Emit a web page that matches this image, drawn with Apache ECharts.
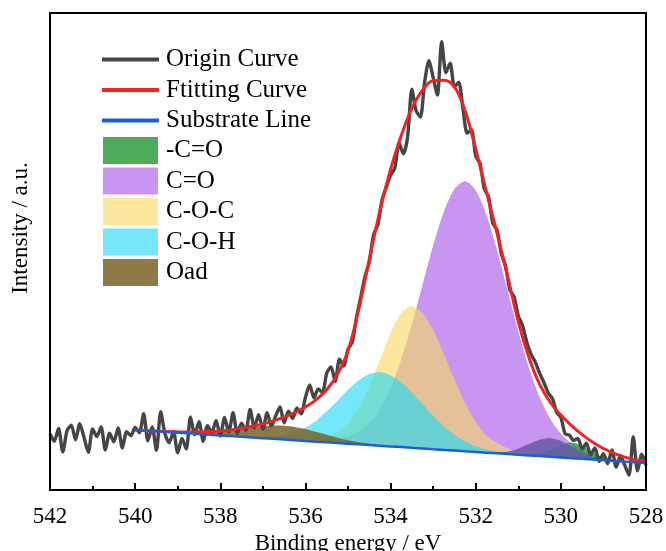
<!DOCTYPE html>
<html><head><meta charset="utf-8">
<script src="https://cdn.jsdelivr.net/npm/echarts@6/dist/echarts.min.js"></script>
<style>html,body{margin:0;padding:0;background:#fff}#c{width:666px;height:551px}</style>
</head><body><div id="c"></div>
<script>
// Raw spectrum (0.1 eV step)
const energyFine = [
542.0,541.9,541.8,541.7,541.6,541.5,541.4,541.3,541.2,541.1,
541.0,540.9,540.8,540.7,540.6,540.5,540.4,540.3,540.2,540.1,
540.0,539.9,539.8,539.7,539.6,539.5,539.4,539.3,539.2,539.1,
539.0,538.9,538.8,538.7,538.6,538.5,538.4,538.3,538.2,538.1,
538.0,537.9,537.8,537.7,537.6,537.5,537.4,537.3,537.2,537.1,
537.0,536.9,536.8,536.7,536.6,536.5,536.4,536.3,536.2,536.1,
536.0,535.9,535.8,535.7,535.6,535.5,535.4,535.3,535.2,535.1,
535.0,534.9,534.8,534.7,534.6,534.5,534.4,534.3,534.2,534.1,
534.0,533.9,533.8,533.7,533.6,533.5,533.4,533.3,533.2,533.1,
533.0,532.9,532.8,532.7,532.6,532.5,532.4,532.3,532.2,532.1,
532.0,531.9,531.8,531.7,531.6,531.5,531.4,531.3,531.2,531.1,
531.0,530.9,530.8,530.7,530.6,530.5,530.4,530.3,530.2,530.1,
530.0,529.9,529.8,529.7,529.6,529.5,529.4,529.3,529.2,529.1,
529.0,528.9,528.8,528.7,528.6,528.5,528.4,528.3,528.2,528.1,
528.0];
const originCurve = [
11.8,10.2,12.9,8.0,12.4,13.6,10.5,13.9,11.0,7.9,
12.8,11.2,13.2,8.4,11.9,10.1,13.0,8.8,12.2,11.4,
13.1,12.0,16.0,10.3,13.2,8.3,16.4,11.8,9.9,12.3,
7.8,10.8,8.6,15.3,11.6,14.3,10.2,13.5,12.0,14.6,
11.3,15.2,12.1,16.2,11.9,14.0,12.5,16.9,13.0,15.8,
12.7,16.2,13.4,15.5,17.4,14.1,16.5,15.0,17.2,16.0,
19.4,22.0,19.3,21.2,20.4,24.5,25.8,22.8,27.4,26.0,
29.5,31.0,36.2,40.5,44.8,47.8,53.5,55.6,60.8,63.5,
66.0,67.5,72.7,70.5,74.0,84.0,79.5,78.2,85.5,90.0,
86.5,82.8,94.0,87.5,89.5,84.5,85.5,80.0,74.8,75.5,
70.0,68.5,63.2,61.5,56.0,54.5,49.6,47.0,42.0,40.5,
36.5,34.5,31.0,28.5,26.8,24.5,22.6,20.4,19.2,16.3,
15.2,11.8,11.5,10.4,10.8,8.6,9.8,7.4,8.8,6.0,
7.6,5.5,8.4,4.8,7.2,5.2,3.1,11.2,4.0,7.5,
5.2];

// Fit grid (0.25 eV step)
const energyFit = [540,539.75,539.5,539.25,539,538.75,538.5,538.25,538,537.75,537.5,537.25,537,536.75,536.5,536.25,536,535.75,535.5,535.25,535,534.75,534.5,534.25,534,533.75,533.5,533.25,533,532.75,532.5,532.25,532,531.75,531.5,531.25,531,530.75,530.5,530.25,530,529.75,529.5,529.25,529,528.75,528.5,528.25,528];
const substrateLine = [12.60,12.46,12.31,12.17,12.02,11.88,11.73,11.59,11.44,11.30,11.16,11.01,10.87,10.72,10.58,10.43,10.29,10.14,10.00,9.85,9.71,9.57,9.42,9.28,9.13,8.99,8.84,8.70,8.55,8.41,8.27,8.12,7.98,7.83,7.69,7.54,7.40,7.25,7.11,6.96,6.82,6.68,6.53,6.39,6.24,6.10,5.95,5.81,5.66];
const fittingCurve = [12.6,12.47,12.35,12.27,12.2,12.15,12.15,12.22,12.38,12.6,12.95,13.35,13.85,14.5,15.3,16.2,17.4,18.9,21.0,24.2,29.2,37.8,48.3,58.5,67.2,74.3,80.0,83.8,85.8,85.9,84.5,79.5,71.5,62.5,53.9,44.8,35.3,27.8,22.2,18.4,15.7,13.5,11.6,10.0,8.7,7.7,6.9,6.3,5.9];
// Peak heights above the substrate line
const peakCdO = [0,0,0,0,0,0,0,0,0,0,0,0,0,0,0,0,0,0,0,0,0,0,0,0,0,0,0,0,0,0,0,0,0,0,0,0,0,0.15,0.57,1.5,2.7,3.3,2.7,1.5,0.57,0.15,0,0,0];
const peakCO = [0,0,0,0,0,0,0,0,0,0,0,0,0,0,0.03,0.05,0.15,0.3,0.5,0.9,1.6,2.7,4.6,7.7,12.2,18.4,25.9,34.3,42.7,49.9,54.8,56.6,54.8,49.9,42.7,34.3,25.9,18.4,12.4,8.0,5.0,3.0,1.8,1.0,0.55,0.3,0.15,0.06,0];
const peakCOC = [0,0,0,0,0,0,0,0,0,0,0,0,0,0,0,0.1,0.25,0.5,1.1,2.3,4.3,7.6,12.3,18.0,23.8,28.1,29.7,28.4,25.0,20.1,14.9,10.1,6.3,3.6,2.2,1.2,0.6,0.3,0.15,0,0,0,0,0,0,0,0,0,0];
const peakCOH = [0,0,0,0,0,0,0,0,0,0,0,0.1,0.25,0.5,0.95,1.7,2.8,4.4,6.5,8.8,11.3,13.4,14.9,15.4,14.9,13.6,11.6,9.3,7.0,5.0,3.3,2.1,1.2,0.7,0.35,0.2,0.1,0,0,0,0,0,0,0,0,0,0,0,0];
const peakOad = [0,0,0,0,0.06,0.13,0.25,0.44,0.72,1.1,1.57,2.05,2.5,2.8,2.9,2.8,2.5,2.05,1.57,1.1,0.72,0.44,0.25,0.13,0.06,0,0,0,0,0,0,0,0,0,0,0,0,0,0,0,0,0,0,0,0,0,0,0,0];
const peakMinor = [0,0,0,0,0,0,0,0,0,0,0,0,0,0,0,0,0,0,0,0,0,0,0,0,0,0,0,0,0,0,0,0,0,0.04,0.17,0.53,1.27,2.37,3.45,3.9,3.45,2.37,1.27,0.53,0.17,0.04,0,0,0];

const xTickMin = 528, xTickMax = 542, xTickStep = 2;

// component outline = substrate line + peak height, kept only around its support
function peakPairs(peak){
  const out = [];
  for (let i = 0; i < energyFit.length; i++) {
    const near = peak[i] > 0 || (i > 0 && peak[i-1] > 0) || (i < peak.length-1 && peak[i+1] > 0);
    if (near) out.push([energyFit[i], substrateLine[i] + peak[i]]);
  }
  return out;
}
function pairs(xs, ys){ return xs.map(function(x,i){ return [x, ys[i]]; }); }

const FONT = 'Liberation Serif';
const comps = [
  {name:'C=O',   data:peakCO,    fill:'#a655e7', op:0.62, legend:'#c896f0'},
  {name:'C-O-C', data:peakCOC,   fill:'#f8da62', op:0.62, legend:'#fbe89e'},
  {name:'C-O-H', data:peakCOH,   fill:'#1fdaf4', op:0.62, legend:'#76e6fa'},
  {name:'Oad',   data:peakOad,   fill:'#786329', op:0.85, legend:'#8e7a49'},
  {name:'-C=O',  data:peakCdO,   fill:'#2e9a3e', op:0.85, legend:'#4dab5b'},
  {name:'minor', data:peakMinor, fill:'#665ba7', op:0.85, legend:'#7d73b4'}
];
const series = [];
comps.forEach(function(c){
  series.push({type:'line', name:c.name, data:peakPairs(c.data),
    symbol:'none', smooth:0.3, silent:true, color:c.legend,
    lineStyle:{width:0}, areaStyle:{color:c.fill, opacity:c.op}, z:2});
});
// white mask below the substrate line
series.push({type:'line', name:'_mask', data:pairs(energyFit, substrateLine), symbol:'none', silent:true,
  lineStyle:{width:0}, areaStyle:{color:'#ffffff', opacity:1}, z:3});
series.push({type:'line', name:'Origin Curve', data:pairs(energyFine, originCurve), symbol:'none',
  smooth:0.25, color:'#454545', lineStyle:{color:'#454545', width:3.4}, z:4});
series.push({type:'line', name:'Ftitting Curve', data:pairs(energyFit, fittingCurve), symbol:'none',
  smooth:0.4, color:'#ee2424', lineStyle:{color:'#ee2424', width:3}, z:5});
series.push({type:'line', name:'Substrate Line', data:pairs(energyFit, substrateLine), symbol:'none',
  color:'#1c5fd4', lineStyle:{color:'#1c5fd4', width:2.5}, z:6});

const chart = echarts.init(document.getElementById('c'));
chart.setOption({
  animation:false,
  backgroundColor:'#fff',
  grid:{left:50, top:13, width:596, height:477, show:true, borderColor:'#000', borderWidth:2,
        outerBoundsMode:'none'},
  xAxis:{type:'value', min:xTickMin, max:xTickMax, interval:xTickStep, inverse:true,
    axisLine:{show:true, lineStyle:{color:'#000', width:2}},
    axisTick:{show:true, inside:true, length:7, lineStyle:{color:'#000', width:2}},
    minorTick:{show:true, splitNumber:2, length:4, lineStyle:{color:'#000', width:2}},
    splitLine:{show:false},
    axisLabel:{fontFamily:FONT, fontSize:23, color:'#000', margin:15},
    name:'Binding energy / eV', nameLocation:'middle', nameGap:40,
    nameTextStyle:{fontFamily:FONT, fontSize:23, color:'#000'}, z:8},
  yAxis:[
    {type:'value', min:0, max:100,
     axisLine:{show:true, lineStyle:{color:'#000', width:2}},
     axisTick:{show:false}, axisLabel:{show:false}, splitLine:{show:false}, z:8},
    {type:'value', min:0, max:100, position:'right',
     axisLine:{show:true, lineStyle:{color:'#000', width:2}},
     axisTick:{show:false}, axisLabel:{show:false}, splitLine:{show:false}, z:8}],
  legend:[
    {orient:'vertical', left:102, top:47, padding:0, itemWidth:57, itemHeight:4, itemGap:5.5, icon:'rect',
     textStyle:{fontFamily:FONT, fontSize:25, color:'#000', padding:[0,0,0,2]}, selectedMode:false,
     data:[{name:'Origin Curve', itemStyle:{color:'#454545', opacity:1}},
           {name:'Ftitting Curve', itemStyle:{color:'#ee2424', opacity:1}},
           {name:'Substrate Line', itemStyle:{color:'#1c5fd4', opacity:1}}]},
    {orient:'vertical', left:103, top:137, padding:0, itemWidth:55, itemHeight:27, itemGap:3.5, icon:'rect',
     textStyle:{fontFamily:FONT, fontSize:25, color:'#000', padding:[0,0,0,3]}, selectedMode:false,
     data:[{name:'-C=O', itemStyle:{color:'#4dab5b', opacity:1, borderWidth:0}},
           {name:'C=O', itemStyle:{color:'#c896f0', opacity:1, borderWidth:0}},
           {name:'C-O-C', itemStyle:{color:'#fbe89e', opacity:1, borderWidth:0}},
           {name:'C-O-H', itemStyle:{color:'#76e6fa', opacity:1, borderWidth:0}},
           {name:'Oad', itemStyle:{color:'#8e7a49', opacity:1, borderWidth:0}}]}
  ],
  graphic:[{type:'text', x:21, y:228, rotation:Math.PI/2,
    style:{text:'Intensity / a.u.', fontFamily:FONT, fontSize:23, fill:'#000', align:'center', verticalAlign:'middle'}}],
  series:series
});
</script></body></html>
